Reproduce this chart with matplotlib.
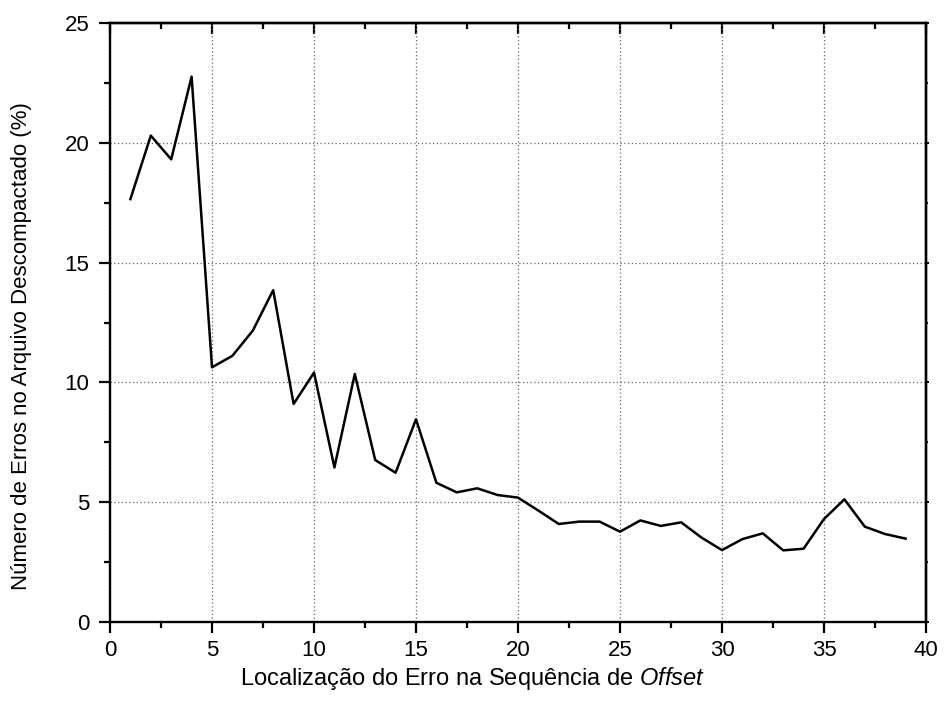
import matplotlib
matplotlib.use("Agg")
import matplotlib.pyplot as plt
from matplotlib.ticker import MultipleLocator

plt.rcParams['font.family'] = ['Liberation Sans', 'DejaVu Sans']
plt.rcParams['mathtext.fontset'] = 'custom'
plt.rcParams['mathtext.rm'] = 'Liberation Sans'
plt.rcParams['mathtext.it'] = 'Liberation Sans:italic'

positions = list(range(1, 40))
errors = [17.65, 20.3, 19.31, 22.76, 10.63, 11.11, 12.16, 13.85, 9.10, 10.41,
          6.45, 10.35, 6.76, 6.23, 8.46, 5.81, 5.41, 5.58, 5.30, 5.19,
          4.65, 4.09, 4.19, 4.19, 3.77, 4.24, 4.01, 4.16, 3.52, 3.00,
          3.46, 3.70, 2.99, 3.06, 4.30, 5.12, 3.98, 3.67, 3.48]

xlabel = r"Localização do Erro na Sequência de $\mathit{Offset}$"
ylabel = "Número de Erros no Arquivo Descompactado (%)"

fig = plt.figure(figsize=(9.46, 7.16), dpi=100)
ax = fig.add_axes([110/946, 1-622/716, (926-110)/946, (622-23)/716])

ax.plot(positions, errors, color='black', linewidth=1.8)

ax.set_xlim(0, 40)
ax.set_ylim(0, 25)
ax.xaxis.set_major_locator(MultipleLocator(5))
ax.xaxis.set_minor_locator(MultipleLocator(2.5))
ax.yaxis.set_major_locator(MultipleLocator(5))
ax.yaxis.set_minor_locator(MultipleLocator(2.5))

ax.grid(True, which='major', linestyle=(0, (1, 2)), color='#666666', linewidth=0.9)

for s in ax.spines.values():
    s.set_linewidth(1.7)

ax.tick_params(axis='both', which='major', direction='out', length=8, width=1.6,
               labelsize=16)
ax.tick_params(axis='x', which='major', pad=5)
ax.tick_params(axis='y', which='major', pad=7)
ax.tick_params(axis='both', which='minor', direction='out', length=4.5, width=1.6)

# top ticks pointing inward
secx = ax.secondary_xaxis('top')
secx.xaxis.set_major_locator(MultipleLocator(5))
secx.xaxis.set_minor_locator(MultipleLocator(2.5))
secx.tick_params(which='major', direction='in', length=8, width=1.6, labeltop=False)
secx.tick_params(which='minor', direction='in', length=4.5, width=1.6)
secx.spines['top'].set_linewidth(1.7)

# right: tiny outward ticks
secy = ax.secondary_yaxis('right')
secy.yaxis.set_major_locator(MultipleLocator(5))
secy.yaxis.set_minor_locator(MultipleLocator(2.5))
secy.tick_params(which='major', direction='out', length=2.5, width=1.4, labelright=False)
secy.tick_params(which='minor', direction='out', length=1.5, width=1.4)
secy.spines['right'].set_linewidth(1.7)

ax.set_xlabel(xlabel, fontsize=17)
ax.set_ylabel(ylabel, fontsize=16)
ax.xaxis.set_label_coords((473 - 110) / 816, -0.072)
ax.yaxis.set_label_coords((32 - 110) / 816, (622 - 346) / 599)

fig.savefig('out.png', dpi=100)
